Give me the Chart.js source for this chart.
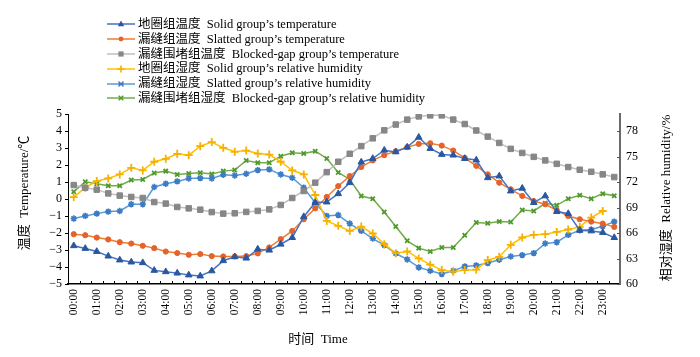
<!DOCTYPE html>
<html><head><meta charset="utf-8">
<script src="https://cdn.jsdelivr.net/npm/chart.js@4"></script>
<style>
html,body{margin:0;padding:0;background:#fff;}
#wrap{position:relative;width:700px;height:357px;}
#legend{position:absolute;left:106px;top:17px;font:12.5px "Liberation Serif","Noto Sans CJK SC",serif;color:#000;}
.row{height:14.8px;line-height:14.8px;white-space:nowrap;display:flex;align-items:center;}
.row svg{width:30px;height:12px;margin-right:2px;flex:none;}
</style></head>
<body><div id="wrap"><canvas id="c" width="700" height="357"></canvas><div id="legend"></div></div>
<script>
const categories = ['00:00','00:30','01:00','01:30','02:00','02:30','03:00','03:30','04:00','04:30','05:00','05:30',
  '06:00','06:30','07:00','07:30','08:00','08:30','09:00','09:30','10:00','10:30','11:00','11:30',
  '12:00','12:30','13:00','13:30','14:00','14:30','15:00','15:30','16:00','16:30','17:00','17:30',
  '18:00','18:30','19:00','19:30','20:00','20:30','21:00','21:30','22:00','22:30','23:00','23:30'];
const solidTemp = [-2.75,-2.91,-3.09,-3.36,-3.59,-3.71,-3.75,-4.20,-4.28,-4.36,-4.47,-4.53,-4.23,-3.63,-3.40,-3.48,-2.95,-3.01,-2.66,-2.27,-1.04,-0.21,-0.18,0.31,0.96,2.17,2.38,2.87,2.77,3.05,3.63,2.97,2.62,2.58,2.38,2.29,1.25,1.35,0.47,0.63,-0.21,0.18,-0.74,-0.86,-1.84,-1.88,-1.97,-2.27];
const slattedTemp = [-2.07,-2.13,-2.27,-2.38,-2.54,-2.62,-2.75,-2.89,-3.09,-3.18,-3.28,-3.24,-3.36,-3.38,-3.38,-3.36,-3.20,-2.85,-2.36,-1.88,-1.19,-0.55,0.12,0.76,1.35,1.88,2.27,2.58,2.81,3.05,3.24,3.28,3.14,2.85,2.42,1.95,1.45,0.96,0.57,0.18,-0.12,-0.31,-0.66,-1.00,-1.19,-1.33,-1.45,-1.64];
const blockedTemp = [0.82,0.66,0.55,0.33,0.20,0.12,0.06,-0.18,-0.27,-0.47,-0.55,-0.63,-0.77,-0.86,-0.84,-0.76,-0.70,-0.61,-0.35,0.06,0.47,0.96,1.58,2.19,2.66,3.11,3.57,4.04,4.38,4.67,4.86,4.92,4.92,4.67,4.41,4.03,3.67,3.30,2.95,2.71,2.48,2.27,2.07,1.88,1.72,1.60,1.45,1.29];
const solidRH = [70.23,71.33,72.11,72.42,72.89,73.67,73.36,74.38,74.73,75.31,75.16,76.21,76.70,76.02,75.55,75.70,75.35,75.23,74.38,73.36,72.89,70.47,67.42,66.84,66.25,66.76,65.94,64.69,63.63,63.83,63.01,62.27,61.64,61.45,61.64,61.68,62.81,63.20,64.61,65.47,65.78,65.86,66.13,66.41,66.72,67.81,68.59,null];
const slattedRH = [67.70,68.01,68.28,68.52,68.59,69.38,69.38,71.41,71.80,72.07,72.42,72.46,72.42,72.85,72.77,72.97,73.40,73.48,72.89,72.50,71.33,69.57,68.01,68.11,67.11,66.25,65.35,64.57,63.59,62.89,61.95,61.56,61.17,61.56,62.07,62.19,62.46,62.85,63.24,63.40,63.63,64.77,64.92,65.78,66.33,66.41,66.80,67.34];
const blockedRH = [70.86,72.03,71.80,71.56,71.56,72.23,72.30,73.05,73.28,72.89,73.01,73.09,72.93,73.28,73.40,74.53,74.26,74.26,75.04,75.43,75.35,75.63,74.77,73.12,72.30,70.35,70.04,68.48,66.76,65.08,64.22,63.83,64.30,64.30,65.74,67.23,67.15,67.34,67.30,68.71,68.59,69.49,69.26,70.04,70.43,70.04,70.63,70.39];
const seriesNames = ['地圈组温度  Solid group’s temperature','漏缝组温度  Slatted group’s temperature','漏缝围堵组温度  Blocked-gap group’s temperature','地圈组湿度  Solid group’s relative humidity','漏缝组湿度  Slatted group’s relative humidity','漏缝围堵组湿度  Blocked-gap group’s relative humidity'];
const xTitle = '时间  Time';
const yTitle = '温度  Temperature/℃';
const y1Title = '相对湿度  Relative humidity/%';

const FONT = '"Liberation Serif","Noto Sans CJK SC",serif';
const styles = [
  {line:'#4472C4', mark:'#2B579F', shape:'triangle', r:3.8, bw:1},
  {line:'#ED7D31', mark:'#E5622A', shape:'circle', r:2.6, bw:1},
  {line:'#BFBFBF', mark:'#878787', shape:'rect', r:3.9, bw:1},
  {line:'#FFC000', mark:'#F5B000', shape:'cross', r:4, bw:1.8},
  {line:'#5B9BD5', mark:'#3D7CC4', shape:'star', r:3.2, bw:1.6},
  {line:'#70AD47', mark:'#4E9A2C', shape:'crossRot', r:3, bw:1.8}
];
const seriesData = [solidTemp, slattedTemp, blockedTemp, solidRH, slattedRH, blockedRH];
const datasets = seriesData.map((d, i) => ({
  label: seriesNames[i], data: d, yAxisID: i < 3 ? 'y' : 'y1',
  borderColor: styles[i].line, borderWidth: 1.5, backgroundColor: styles[i].mark,
  pointStyle: styles[i].shape, pointRadius: styles[i].r, pointHoverRadius: styles[i].r,
  pointBackgroundColor: styles[i].mark, pointBorderColor: styles[i].mark, pointBorderWidth: styles[i].bw,
  tension: 0, fill: false
}));

// HTML legend
function markerSvg(s) {
  let m = '';
  const c = s.mark, cx = 15, cy = 6;
  if (s.shape === 'triangle') m = `<polygon points="${cx},${cy-3.5} ${cx+3.2},${cy+2.3} ${cx-3.2},${cy+2.3}" fill="${c}"/>`;
  else if (s.shape === 'circle') m = `<circle cx="${cx}" cy="${cy}" r="2.4" fill="${c}"/>`;
  else if (s.shape === 'rect') m = `<rect x="${cx-2.6}" y="${cy-2.6}" width="5.2" height="5.2" fill="${c}"/>`;
  else if (s.shape === 'cross') m = `<path d="M${cx-3.5} ${cy}H${cx+3.5}M${cx} ${cy-3.5}V${cy+3.5}" stroke="${c}" stroke-width="1.6"/>`;
  else if (s.shape === 'star') m = `<path d="M${cx-2.5} ${cy-2.5}L${cx+2.5} ${cy+2.5}M${cx+2.5} ${cy-2.5}L${cx-2.5} ${cy+2.5}M${cx-2.5} ${cy}H${cx+2.5}" stroke="${c}" stroke-width="1.4"/>`;
  else m = `<path d="M${cx-2.3} ${cy-2.3}L${cx+2.3} ${cy+2.3}M${cx+2.3} ${cy-2.3}L${cx-2.3} ${cy+2.3}" stroke="${c}" stroke-width="1.5"/>`;
  return `<svg viewBox="0 0 30 12"><line x1="1" y1="6" x2="29" y2="6" stroke="${s.line}" stroke-width="1.5"/>${m}</svg>`;
}
document.getElementById('legend').innerHTML = seriesNames.map((n, i) =>
  `<div class="row">${markerSvg(styles[i])}<span style="white-space:pre">${n}</span></div>`).join('');

const axisExtras = {
  id: 'axisExtras',
  afterDraw(chart) {
    const {ctx, chartArea: a, scales} = chart;
    ctx.save();
    ctx.strokeStyle = '#000'; ctx.lineWidth = 1;
    const seg = (x1, y1, x2, y2) => { ctx.beginPath(); ctx.moveTo(x1, y1); ctx.lineTo(x2, y2); ctx.stroke(); };
    const xs = scales.x;
    for (let k = 1; k < categories.length; k++) {
      const px = Math.round((xs.getPixelForValue(k - 1) + xs.getPixelForValue(k)) / 2) + 0.5;
      seg(px, a.bottom, px, a.bottom - 3);
    }
    scales.y.ticks.forEach(t => { const py = Math.round(scales.y.getPixelForValue(t.value)) + 0.5; seg(a.left - 3, py, a.left, py); });
    ctx.strokeStyle = '#555';
    scales.y1.ticks.forEach(t => { const py = Math.round(scales.y1.getPixelForValue(t.value)) + 0.5; seg(a.right, py, a.right - 3, py); });
    ctx.fillStyle = '#000';
    ctx.font = '13px ' + FONT;
    ctx.textAlign = 'center'; ctx.textBaseline = 'middle';
    ctx.fillText(xTitle, 318, 340);
    ctx.translate(25, 193); ctx.rotate(-Math.PI / 2); ctx.fillText(yTitle, 0, 0);
    ctx.setTransform(1, 0, 0, 1, 0, 0);
    ctx.translate(667, 198); ctx.rotate(-Math.PI / 2); ctx.fillText(y1Title, 0, 0);
    ctx.restore();
  }
};

new Chart(document.getElementById('c'), {
  type: 'line',
  data: { labels: categories, datasets },
  options: {
    responsive: false, devicePixelRatio: 1, animation: false,
    layout: { padding: { top: 114, left: 0, right: 0, bottom: 0 } },
    plugins: { legend: { display: false }, tooltip: { enabled: false } },
    scales: {
      x: {
        type: 'category', offset: true,
        grid: { display: false, drawTicks: false },
        border: { display: true, color: '#000', width: 1.5 },
        ticks: { autoSkip: false, maxRotation: 90, minRotation: 90, padding: 5, color: '#000',
          font: { family: FONT, size: 11.5 },
          callback: (v, i) => i % 2 === 0 ? categories[i] : '' },
        afterFit: s => { s.height = 73; }
      },
      y: {
        position: 'left', min: -5, max: 5,
        grid: { display: false, drawTicks: false },
        border: { display: true, color: '#000', width: 1 },
        ticks: { stepSize: 1, autoSkip: false, padding: 6, color: '#000', font: { family: FONT, size: 12 },
          callback: v => String(v).replace('-', '−') },
        afterFit: s => { s.width = 68; }
      },
      y1: {
        position: 'right', min: 60, max: 80,
        grid: { display: false, drawTicks: false },
        border: { display: true, color: '#6b6b6b', width: 2 },
        ticks: { stepSize: 3, autoSkip: false, includeBounds: false, padding: 6, color: '#000', font: { family: FONT, size: 12 } },
        afterFit: s => { s.width = 80; }
      }
    }
  },
  plugins: [axisExtras]
});
</script>
</body></html>
